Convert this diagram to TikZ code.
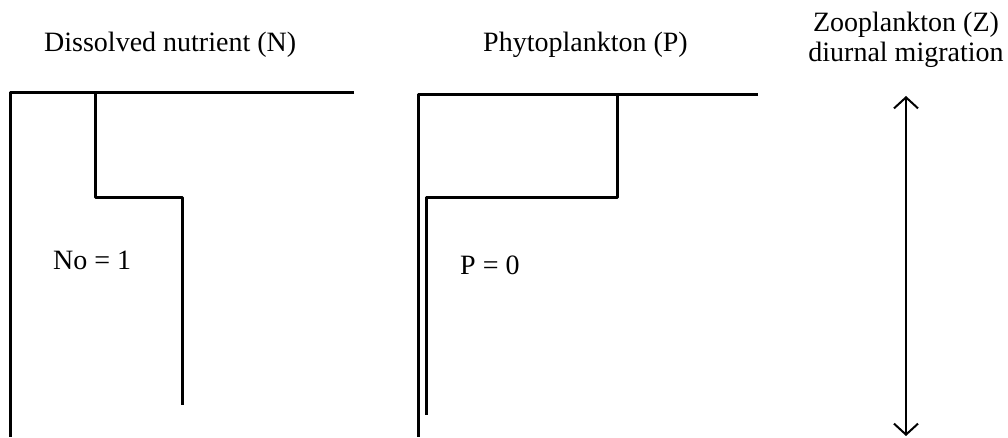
\documentclass[tikz,border=0pt]{standalone}
\usepackage{fontspec}
\setmainfont{Liberation Serif}
\usetikzlibrary{arrows.meta}
\begin{document}
\begin{tikzpicture}[x=1pt,y=-1pt,
  lbl/.style={font=\fontsize{28}{30}\selectfont, inner sep=0pt, anchor=base west},
  prof/.style={line width=3pt, line join=round, line cap=butt},
  barb/.tip={Straight Barb[length=11pt,width=24pt,line width=2pt]}]
\useasboundingbox (0,0) rectangle (1008,438);
% titles
\node[lbl] (tN) at (44,52) {Dissolved nutrient (N)};
\node[lbl] (tP) at (483,52) {Phytoplankton (P)};
\node[lbl, anchor=base] (tZ1) at (906,32) {Zooplankton (Z)};
\node[lbl, anchor=base] (tZ2) at (906,62) {diurnal migration};
% values
\node[lbl] (vN) at (53,269) {No = 1};
\node[lbl] (vP) at (460,274) {P = 0};
% nutrient profile
\draw[prof] (354,93) -- (10,93) -- (10,437);
\draw[prof] (95,93) -- (95,198) -- (182,198) -- (182,405);
% phytoplankton profile
\draw[prof] (758,95) -- (418,95) -- (418,437);
\draw[prof] (617,95) -- (617,198) -- (426,198) -- (426,415);
% migration arrow
\coordinate (zt) at (906,96);
\coordinate (zb) at (906,436);
\draw[line width=2pt, barb-barb] (zt) -- (zb);
\end{tikzpicture}
\end{document}
